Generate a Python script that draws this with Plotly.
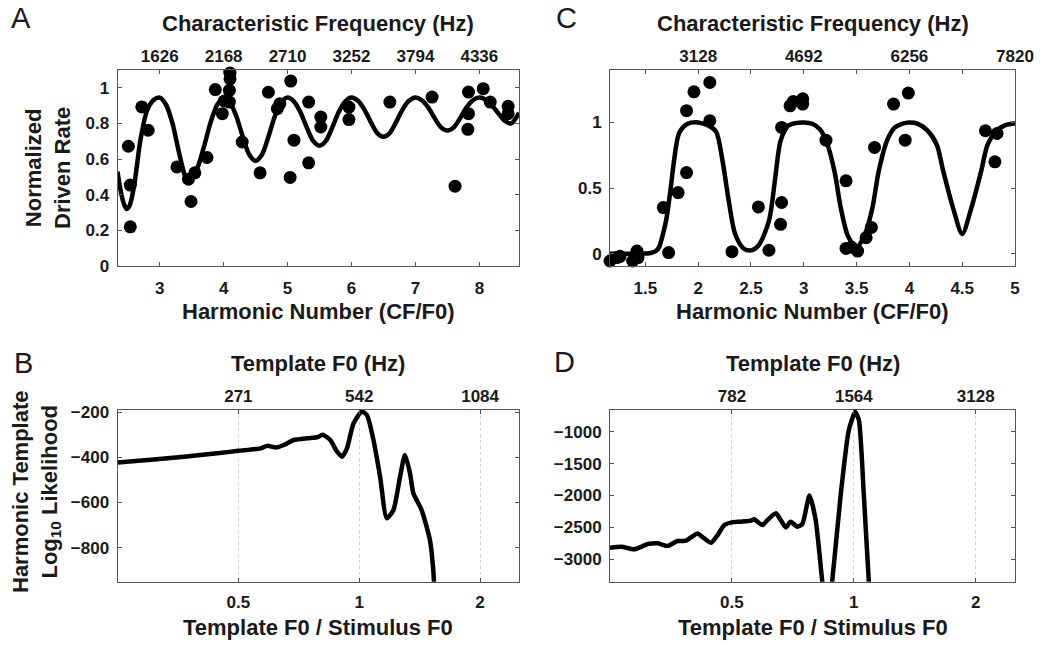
import numpy as np
import plotly.graph_objects as go

# ---------------- Data ----------------
# Panel A: normalized driven rate vs harmonic number
a_pts_h = [2.51, 2.54, 2.54, 2.72, 2.82, 3.27, 3.45, 3.49, 3.55, 3.74, 3.87, 3.98, 4.01, 4.09,
           4.10, 4.10, 4.09, 4.29, 4.57, 4.70, 4.84, 4.88, 5.05, 5.04, 5.10, 5.33, 5.33, 5.52,
           5.52, 5.96, 5.96, 6.60, 7.26, 7.62, 7.83, 7.83, 7.82, 8.06, 8.17, 8.45, 8.45]
a_pts_rate = [0.672, 0.454, 0.22, 0.893, 0.762, 0.556, 0.487, 0.362, 0.523, 0.609, 0.99, 0.855,
              0.926, 0.986, 1.083, 1.05, 0.92, 0.696, 0.523, 0.975, 0.883, 0.911, 1.038, 0.497,
              0.706, 0.92, 0.579, 0.836, 0.78, 0.892, 0.822, 0.92, 0.948, 0.448, 0.976, 0.855,
              0.767, 0.995, 0.92, 0.896, 0.855]
a_fit_h = [2.34, 2.38, 2.43, 2.48, 2.53, 2.60, 2.70, 2.80, 2.90, 3.0,
           3.1, 3.2, 3.3, 3.4, 3.45, 3.5, 3.6, 3.7, 3.8, 3.9, 4.0,
           4.1, 4.2, 4.3, 4.4, 4.5, 4.6, 4.7, 4.8, 4.9, 5.0,
           5.1, 5.2, 5.3, 5.4, 5.5, 5.6, 5.7, 5.8, 5.9, 6.0,
           6.1, 6.2, 6.3, 6.4, 6.5, 6.6, 6.7, 6.8, 6.9, 7.0,
           7.1, 7.2, 7.3, 7.4, 7.5, 7.6, 7.7, 7.8, 7.9, 8.0,
           8.1, 8.2, 8.3, 8.4, 8.5, 8.62]
a_fit_rate = [0.53, 0.44, 0.36, 0.32, 0.34, 0.45, 0.71, 0.87, 0.93, 0.945,
              0.905, 0.80, 0.64, 0.50, 0.47, 0.49, 0.56, 0.68, 0.81, 0.905, 0.945,
              0.917, 0.839, 0.725, 0.626, 0.59, 0.626, 0.725, 0.839, 0.917, 0.945,
              0.923, 0.864, 0.778, 0.702, 0.675, 0.702, 0.778, 0.864, 0.923, 0.945,
              0.927, 0.879, 0.809, 0.747, 0.725, 0.747, 0.809, 0.879, 0.927, 0.945,
              0.93, 0.89, 0.83, 0.778, 0.76, 0.778, 0.83, 0.89, 0.93, 0.945,
              0.933, 0.901, 0.855, 0.814, 0.80, 0.86]
a_bottom_ticks = [3, 4, 5, 6, 7, 8]
a_top_labels = ["1626", "2168", "2710", "3252", "3794", "4336"]
a_y_ticks = [0, 0.2, 0.4, 0.6, 0.8, 1]

# Panel C
c_pts_h = [1.165, 1.23, 1.26, 1.38, 1.42, 1.43, 1.67, 1.72, 1.81, 1.89, 1.89, 1.96, 2.11, 2.11,
           2.32, 2.57, 2.67, 2.79, 2.78, 2.79, 2.87, 2.90, 2.99, 2.99, 3.21, 3.40, 3.40, 3.45,
           3.51, 3.59, 3.64, 3.67, 3.85, 3.99, 3.96, 4.72, 4.83, 4.81]
c_pts_rate = [-0.056, -0.03, -0.02, -0.056, 0.02, -0.03, 0.351, 0.008, 0.466, 0.618, 1.09, 1.234,
              1.305, 1.013, 0.015, 0.356, 0.026, 0.39, 0.224, 0.962, 1.127, 1.16, 1.18, 1.14,
              0.865, 0.555, 0.04, 0.05, 0.02, 0.122, 0.2, 0.81, 1.14, 1.224, 0.865, 0.937,
              0.916, 0.70]
c_fit_h = [1.165, 1.3, 1.45, 1.55, 1.6, 1.63, 1.67, 1.70, 1.74, 1.775, 1.82, 1.9, 2.0,
           2.1, 2.17, 2.23, 2.29, 2.35, 2.43, 2.5, 2.57, 2.67, 2.73, 2.78, 2.85, 2.92, 3.0,
           3.08, 3.15, 3.21, 3.29, 3.35, 3.42, 3.5, 3.58, 3.65, 3.71, 3.79, 3.86, 3.93, 4.0,
           4.08, 4.17, 4.26, 4.32, 4.42, 4.5, 4.58, 4.68, 4.74, 4.83, 4.91, 5.0]
c_fit_rate = [0.0, 0.0, 0.0, 0.005, 0.02, 0.05, 0.16, 0.27, 0.5, 0.73, 0.92, 0.99, 1.0,
              0.975, 0.93, 0.71, 0.40, 0.15, 0.04, 0.025, 0.06, 0.25, 0.58, 0.86, 0.975, 0.995, 1.0,
              0.99, 0.95, 0.865, 0.63, 0.35, 0.13, 0.05, 0.15, 0.35, 0.63, 0.865, 0.96, 0.99, 1.0,
              0.99, 0.94, 0.83, 0.63, 0.33, 0.15, 0.33, 0.63, 0.83, 0.94, 0.98, 0.995]
c_bottom_ticks = [1.5, 2, 2.5, 3, 3.5, 4, 4.5, 5]
c_top_ticks = [2, 3, 4, 5]
c_top_labels = ["3128", "4692", "6256", "7820"]
c_y_ticks = [0, 0.5, 1]

# Panel B: log10 likelihood vs template F0 / stimulus F0
b_ratio = [0.25, 0.303, 0.366, 0.443, 0.5, 0.568, 0.59, 0.62, 0.649, 0.687, 0.742, 0.785, 0.812,
           0.847, 0.88, 0.906, 0.932, 0.968, 1.015, 1.045, 1.085, 1.127, 1.171, 1.217, 1.264,
           1.30, 1.338, 1.364, 1.43, 1.5, 1.529, 1.535, 1.55]
b_loglik = [-423, -411, -397, -382, -371, -360, -349, -356, -345, -323, -315, -311, -300,
            -323, -374, -397, -360, -249, -197, -212, -323, -485, -670, -633, -485,
            -389, -470, -559, -633, -766, -899, -951, -1100]
b_ticks = [0.5, 1, 2]
b_top_labels = ["271", "542", "1084"]
b_y_ticks = [-800, -600, -400, -200]

# Panel D
d_ratio = [0.25, 0.267, 0.287, 0.31, 0.328, 0.347, 0.367, 0.385, 0.411, 0.42, 0.444, 0.461, 0.479,
           0.5, 0.526, 0.557, 0.567, 0.595, 0.612, 0.642, 0.66, 0.679, 0.698, 0.725, 0.746,
           0.777, 0.805, 0.836, 0.86, 0.884, 0.927, 0.972, 1.008, 1.029, 1.058, 1.089, 1.1]
d_loglik = [-2817, -2802, -2843, -2760, -2749, -2791, -2713, -2708, -2593, -2635, -2739, -2619,
            -2462, -2420, -2410, -2394, -2373, -2462, -2384, -2279, -2384, -2499, -2410, -2488,
            -2447, -2000, -2384, -3350, -3900, -3350, -2018, -974, -690, -817, -1966, -3350, -3700]
d_ticks = [0.5, 1, 2]
d_top_labels = ["782", "1564", "3128"]
d_y_ticks = [-3000, -2500, -2000, -1500, -1000]

# ---------------- Figure ----------------
W, H = 1047, 646
FONT = "Liberation Sans, Arial, Helvetica, sans-serif"
TXT = "#1a1a1a"
FRAME = "#555555"


def px_x(p):
    return p / W


def px_y(p):
    return 1 - p / H


AX_L, AX_R = (117.5, 519), (610, 1015)
AY_T, AY_B = (70, 266), (410, 581.7)

fig = go.Figure()
line_style = dict(color="black", width=4.5, shape="spline", smoothing=0.8)
mk = dict(color="black", size=13, line=dict(width=0))

fig.add_trace(go.Scatter(x=a_fit_h, y=a_fit_rate, mode="lines", line=line_style, xaxis="x", yaxis="y"))
fig.add_trace(go.Scatter(x=a_pts_h, y=a_pts_rate, mode="markers", marker=mk, xaxis="x", yaxis="y",
                         cliponaxis=False))
fig.add_trace(go.Scatter(x=[], y=[], xaxis="x2", yaxis="y"))

fig.add_trace(go.Scatter(x=c_fit_h, y=c_fit_rate, mode="lines", line=line_style, xaxis="x3", yaxis="y2"))
fig.add_trace(go.Scatter(x=c_pts_h, y=c_pts_rate, mode="markers", marker=mk, xaxis="x3", yaxis="y2",
                         cliponaxis=False))
fig.add_trace(go.Scatter(x=[], y=[], xaxis="x4", yaxis="y2"))

fig.add_trace(go.Scatter(x=b_ratio, y=b_loglik, mode="lines",
                         line=dict(color="black", width=4.5, shape="spline", smoothing=0.6),
                         xaxis="x5", yaxis="y3"))
fig.add_trace(go.Scatter(x=[], y=[], xaxis="x6", yaxis="y3"))

fig.add_trace(go.Scatter(x=d_ratio, y=d_loglik, mode="lines",
                         line=dict(color="black", width=4.5, shape="spline", smoothing=0.6),
                         xaxis="x7", yaxis="y4"))
fig.add_trace(go.Scatter(x=[], y=[], xaxis="x8", yaxis="y4"))

tickfont = dict(family=FONT, size=17, color=TXT, weight="bold")
base = dict(showline=True, linecolor=FRAME, linewidth=1, mirror="ticks", ticks="inside",
            ticklen=4, tickcolor=FRAME, tickwidth=1, showgrid=False, zeroline=False,
            tickfont=tickfont, fixedrange=True, automargin=False)
top = dict(showline=False, ticks="", showgrid=False, zeroline=False, side="top",
           tickfont=tickfont, fixedrange=True, automargin=False)

lr = [np.log10(0.25), np.log10(2.5)]
BOT_SO = 7

fig.update_layout(
    template="none",
    width=W, height=H, autosize=False,
    margin=dict(l=0, r=0, t=0, b=0, pad=0, autoexpand=False),
    paper_bgcolor="white", plot_bgcolor="white",
    showlegend=False,
    font=dict(family=FONT, color=TXT),
    xaxis=dict(base, domain=[px_x(AX_L[0]), px_x(AX_L[1])], range=[2.34, 8.62],
               tickvals=a_bottom_ticks, anchor="y", ticklabelstandoff=BOT_SO),
    xaxis2=dict(top, overlaying="x", range=[2.34, 8.62], tickvals=a_bottom_ticks,
                ticktext=a_top_labels, anchor="y", ticklabelstandoff=4),
    yaxis=dict(base, domain=[px_y(AY_T[1]), px_y(AY_T[0])], range=[0, 1.1],
               tickvals=a_y_ticks, ticktext=["0", "0.2", "0.4", "0.6", "0.8", "1"], anchor="x",
               ticklabelstandoff=4),
    xaxis3=dict(base, domain=[px_x(AX_R[0]), px_x(AX_R[1])], range=[1.165, 5.0],
                tickvals=c_bottom_ticks, ticktext=["1.5", "2", "2.5", "3", "3.5", "4", "4.5", "5"],
                anchor="y2", ticklabelstandoff=BOT_SO),
    xaxis4=dict(top, overlaying="x3", range=[1.165, 5.0], tickvals=c_top_ticks,
                ticktext=c_top_labels, anchor="y2", ticklabelstandoff=4),
    yaxis2=dict(base, domain=[px_y(AY_T[1]), px_y(AY_T[0])], range=[-0.094, 1.40],
                tickvals=c_y_ticks, ticktext=["0", "0.5", "1"], anchor="x3", ticklabelstandoff=4),
    xaxis5=dict(base, type="log", domain=[px_x(AX_L[0]), px_x(AX_L[1])], range=lr,
                tickvals=b_ticks, ticktext=["0.5", "1", "2"], anchor="y3",
                showgrid=True, gridcolor="#cfcfcf", gridwidth=1, griddash="dot",
                ticklabelstandoff=BOT_SO - 2),
    xaxis6=dict(top, type="log", overlaying="x5", range=lr, tickvals=b_ticks,
                ticktext=b_top_labels, anchor="y3", ticklabelstandoff=4),
    yaxis3=dict(base, domain=[px_y(AY_B[1]), px_y(AY_B[0])], range=[-951, -190],
                tickvals=b_y_ticks, anchor="x5", ticklabelstandoff=4),
    xaxis7=dict(base, type="log", domain=[px_x(AX_R[0]), px_x(AX_R[1])], range=lr,
                tickvals=d_ticks, ticktext=["0.5", "1", "2"], anchor="y4",
                showgrid=True, gridcolor="#cfcfcf", gridwidth=1, griddash="dot",
                ticklabelstandoff=BOT_SO - 2),
    xaxis8=dict(top, type="log", overlaying="x7", range=lr, tickvals=d_ticks,
                ticktext=d_top_labels, anchor="y4", ticklabelstandoff=4),
    yaxis4=dict(base, domain=[px_y(AY_B[1]), px_y(AY_B[0])], range=[-3350, -660],
                tickvals=d_y_ticks, anchor="x7", ticklabelstandoff=4),
)


def ann(text, x, y, size=22, weight="bold", angle=0):
    fig.add_annotation(text=text, x=px_x(x), y=px_y(y), xref="paper", yref="paper",
                       showarrow=False, textangle=angle, xanchor="center", yanchor="middle",
                       font=dict(family=FONT, size=size, color=TXT, weight=weight))


cA = (AX_L[0] + AX_L[1]) / 2
cC = (AX_R[0] + AX_R[1]) / 2
ann("Characteristic Frequency (Hz)", cA, 24)
ann("Characteristic Frequency (Hz)", cC, 24)
ann("Harmonic Number (CF/F0)", cA, 311)
ann("Harmonic Number (CF/F0)", cC, 311)
ann("Template F0 (Hz)", cA, 363)
ann("Template F0 (Hz)", cC, 363)
ann("Template F0 / Stimulus F0", cA, 627)
ann("Template F0 / Stimulus F0", cC, 627)
ann("Normalized<br>Driven Rate", 48, 168, angle=-90)
ann("Harmonic Template<br>Log<sub>10</sub> Likelihood", 36, 492, angle=-90)

ann("A", 21, 18, size=29, weight="normal")
ann("C", 566, 18, size=29, weight="normal")
ann("B", 23, 363, size=29, weight="normal")
ann("D", 564, 362, size=29, weight="normal")

fig.write_html("out.html")
